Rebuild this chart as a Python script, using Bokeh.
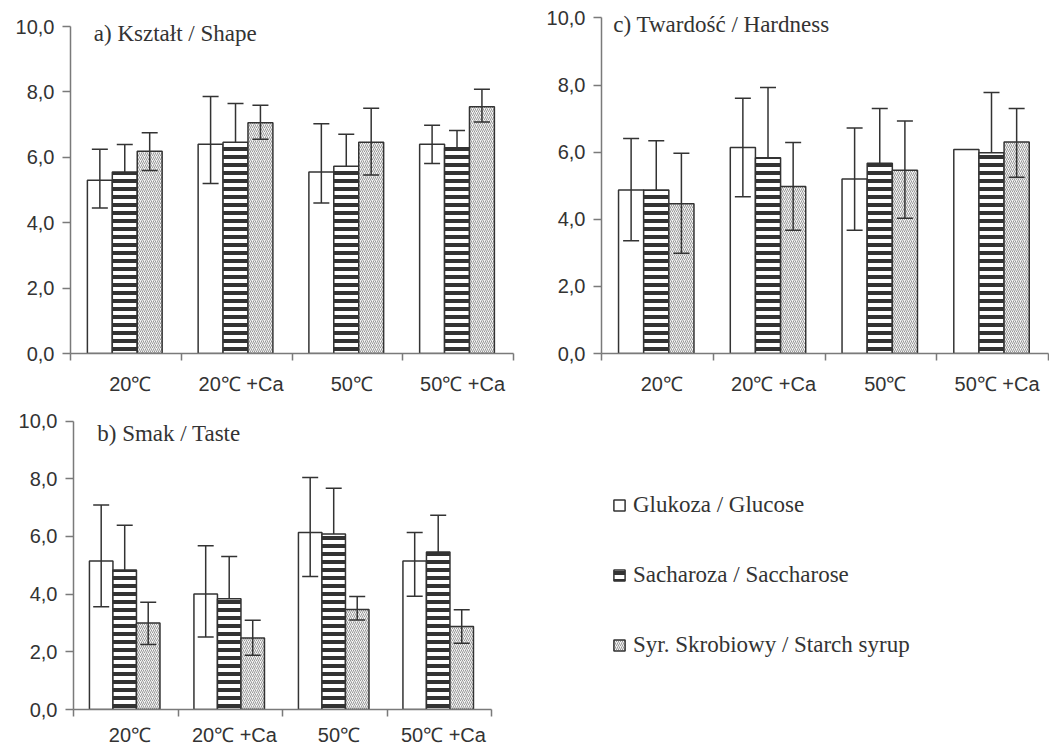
from bokeh.plotting import figure
from bokeh.models import (Range1d, FixedTicker, Whisker, TeeHead,
                          ColumnDataSource, Label, Legend, LegendItem)
from bokeh.transform import dodge
from bokeh.layouts import row, column
from bokeh.embed import file_html
from bokeh.resources import INLINE

# ---------------- data ----------------
CATEGORIES = ["20\u2103", "20\u2103 +Ca", "50\u2103", "50\u2103 +Ca"]
Y_TICKS = [0, 2, 4, 6, 8, 10]
Y_TICK_LABELS = ["0,0", "2,0", "4,0", "6,0", "8,0", "10,0"]
SERIES = ["Glukoza / Glucose", "Sacharoza / Saccharose", "Syr. Skrobiowy / Starch syrup"]

# a) Kształt / Shape
SHAPE_GLU = [5.30, 6.40, 5.55, 6.40]
SHAPE_GLU_LO = [4.45, 5.20, 4.60, 5.81]
SHAPE_GLU_HI = [6.25, 7.86, 7.03, 6.98]
SHAPE_SAC = [5.55, 6.46, 5.73, 6.29]
SHAPE_SAC_HI = [6.39, 7.65, 6.71, 6.82]
SHAPE_SYR = [6.19, 7.06, 6.46, 7.55]
SHAPE_SYR_LO = [5.60, 6.55, 5.46, 7.08]
SHAPE_SYR_HI = [6.75, 7.59, 7.50, 8.08]

# c) Twardość / Hardness  (no error bar for glucose 50℃ +Ca)
HARD_GLU = [4.87, 6.14, 5.20, 6.08]
HARD_GLU_LO = [3.36, 4.67, 3.67, None]
HARD_GLU_HI = [6.41, 7.61, 6.72, None]
HARD_SAC = [4.87, 5.83, 5.67, 5.98]
HARD_SAC_HI = [6.34, 7.93, 7.30, 7.78]
HARD_SYR = [4.46, 4.98, 5.46, 6.30]
HARD_SYR_LO = [2.99, 3.67, 4.03, 5.25]
HARD_SYR_HI = [5.97, 6.29, 6.93, 7.30]

# b) Smak / Taste
TASTE_GLU = [5.15, 4.00, 6.14, 5.15]
TASTE_GLU_LO = [3.56, 2.51, 4.61, 3.93]
TASTE_GLU_HI = [7.09, 5.68, 8.04, 6.14]
TASTE_SAC = [4.84, 3.84, 6.08, 5.46]
TASTE_SAC_HI = [6.39, 5.30, 7.67, 6.73]
TASTE_SYR = [3.00, 2.48, 3.47, 2.88]
TASTE_SYR_LO = [2.25, 1.88, 3.10, 2.30]
TASTE_SYR_HI = [3.72, 3.09, 3.92, 3.46]

# ---------------- style ----------------
DARK = "#333333"
AXIS = "#7a7a7a"
SANS = "Liberation Sans"
SERIF = "Liberation Serif"
BAR_W = 0.225
OFFSETS = [-0.235, -0.01, 0.215]
LABEL_SHIFT = 0.04
Y_TOP = 10.4          # a little head-room above the 10,0 axis end for the panel titles

GLU_STYLE = dict(fill_color="white", line_color=DARK, line_width=1.5)
SAC_STYLE = dict(fill_color="white", line_color=DARK, line_width=1.5,
                 hatch_pattern="horizontal_line", hatch_scale=8, hatch_weight=4, hatch_color=DARK)
SYR_STYLE = dict(fill_color="#f4f4f4", line_color=DARK, line_width=1.5,
                 hatch_pattern="right_diagonal_line", hatch_scale=4, hatch_weight=1, hatch_color="#999999")

N = len(CATEGORIES)
POS = [i + 0.5 for i in range(N)]          # category centres on the linear x scale
BOUNDS = list(range(N + 1))                # category boundaries (tick marks)


def whisker(p, off, lower, upper, heads=True):
    xs, lo, hi = [], [], []
    for c, l, u in zip(POS, lower, upper):
        if l is None or u is None:
            continue
        xs.append(c)
        lo.append(l)
        hi.append(u)
    src = ColumnDataSource(dict(pos=xs, lo=lo, hi=hi))
    w = Whisker(base=dodge("pos", off), lower="lo", upper="hi", source=src,
                line_color=DARK, line_width=1.5, level="overlay",
                upper_head=TeeHead(size=16, line_color=DARK, line_width=1.5),
                lower_head=TeeHead(size=16, line_color=DARK, line_width=1.5) if heads else None)
    p.add_layout(w)


def panel(title, title_x, title_y, glu, glu_lo, glu_hi, sac, sac_hi, syr, syr_lo, syr_hi,
          width, height, bl, br, bt, bb, standoff):
    p = figure(width=width, height=height, x_range=Range1d(0, N),
               y_range=Range1d(0, Y_TOP), toolbar_location=None,
               output_backend="svg", min_border_left=bl, min_border_right=br,
               min_border_top=bt, min_border_bottom=bb, outline_line_color=None)
    p.grid.visible = False

    label_pos = [c + LABEL_SHIFT for c in POS]
    xa = p.xaxis[0]
    xa.ticker = FixedTicker(ticks=label_pos, minor_ticks=BOUNDS)
    xa.major_label_overrides = {c: lab for c, lab in zip(label_pos, CATEGORIES)}
    xa.axis_line_color = AXIS
    xa.axis_line_width = 1.5
    xa.major_tick_line_color = None
    xa.major_tick_out = 0
    xa.major_tick_in = 0
    xa.minor_tick_line_color = AXIS
    xa.minor_tick_line_width = 1.5
    xa.minor_tick_out = 7
    xa.minor_tick_in = 0
    xa.major_label_standoff = standoff
    xa.major_label_text_font = SANS
    xa.major_label_text_font_size = "20px"
    xa.major_label_text_color = DARK

    ya = p.yaxis[0]
    ya.ticker = FixedTicker(ticks=Y_TICKS)
    ya.bounds = (Y_TICKS[0], Y_TICKS[-1])
    ya.major_label_overrides = {t: l for t, l in zip(Y_TICKS, Y_TICK_LABELS)}
    ya.axis_line_color = AXIS
    ya.axis_line_width = 1.5
    ya.major_tick_line_color = AXIS
    ya.major_tick_line_width = 1.5
    ya.major_tick_out = 8
    ya.major_tick_in = 0
    ya.minor_tick_line_color = None
    ya.major_label_standoff = 8
    ya.major_label_text_font = SANS
    ya.major_label_text_font_size = "20px"
    ya.major_label_text_color = DARK

    src = ColumnDataSource(dict(pos=POS, glu=glu, sac=sac, syr=syr))
    p.vbar(x=dodge("pos", OFFSETS[0]), top="glu", width=BAR_W, source=src, **GLU_STYLE)
    p.vbar(x=dodge("pos", OFFSETS[1]), top="sac", width=BAR_W, source=src, **SAC_STYLE)
    p.vbar(x=dodge("pos", OFFSETS[2]), top="syr", width=BAR_W, source=src, **SYR_STYLE)

    whisker(p, OFFSETS[0], glu_lo, glu_hi)
    whisker(p, OFFSETS[1], sac, sac_hi, heads=False)
    whisker(p, OFFSETS[2], syr_lo, syr_hi)

    p.add_layout(Label(x=title_x, y=title_y, text=title,
                       text_font=SERIF, text_font_size="23px", text_color=DARK,
                       text_baseline="middle"))
    return p


pa = panel("a)  Kształt / Shape", 0.21, 9.8,
           SHAPE_GLU, SHAPE_GLU_LO, SHAPE_GLU_HI, SHAPE_SAC, SHAPE_SAC_HI,
           SHAPE_SYR, SHAPE_SYR_LO, SHAPE_SYR_HI,
           width=540, height=397, bl=70, br=27, bt=13, bb=44, standoff=12)
pc = panel("c)  Twardość / Hardness", 0.106, 9.81,
           HARD_GLU, HARD_GLU_LO, HARD_GLU_HI, HARD_SAC, HARD_SAC_HI,
           HARD_SYR, HARD_SYR_LO, HARD_SYR_HI,
           width=509, height=397, bl=61, br=1, bt=4, bb=44, standoff=12)
pb = panel("b)  Smak / Taste", 0.227, 9.56,
           TASTE_GLU, TASTE_GLU_LO, TASTE_GLU_HI, TASTE_SAC, TASTE_SAC_HI,
           TASTE_SYR, TASTE_SYR_LO, TASTE_SYR_HI,
           width=521, height=351, bl=73, br=30, bt=12, bb=38, standoff=7)

# legend panel
pd = figure(width=528, height=351, x_range=Range1d(0, 1), y_range=Range1d(0, 1),
            x_axis_type=None, y_axis_type=None, toolbar_location=None, output_backend="svg",
            min_border=0, outline_line_color=None)
pd.grid.visible = False
styles = [GLU_STYLE, SAC_STYLE, SYR_STYLE]
items = []
for name, st in zip(SERIES, styles):
    # hidden placeholder renderer: it only feeds the legend swatch
    r = pd.vbar(x=[0.5], top=[0.5], width=0.1, visible=False, **st)
    items.append(LegendItem(label=name, renderers=[r]))
leg = Legend(items=items, location=(91, 51), orientation="vertical",
             glyph_width=14, glyph_height=14, label_standoff=7, spacing=44,
             padding=0, margin=0, border_line_color=None, background_fill_alpha=0,
             inactive_fill_alpha=0,
             label_text_font=SERIF, label_text_font_size="23px", label_text_color=DARK)
pd.add_layout(leg)

layout = column(row(pa, column(pc)), row(pb, pd))
open("out.html", "w").write(file_html(layout, INLINE))
